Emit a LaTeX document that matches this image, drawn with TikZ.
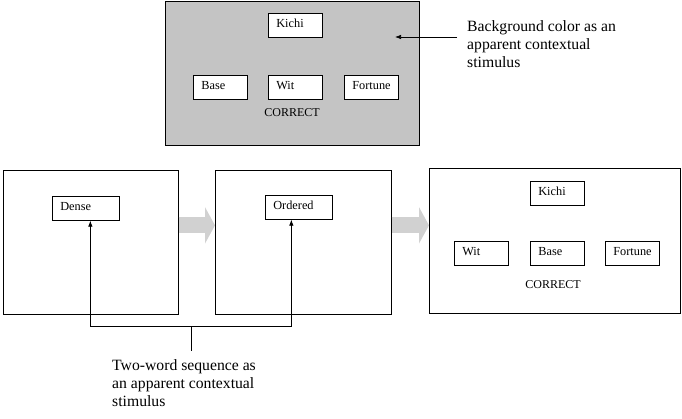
\documentclass[tikz,border=0pt]{standalone}
\usepackage{fontspec}
\setmainfont{Liberation Serif}
\usetikzlibrary{positioning,arrows.meta}

\begin{document}
\begin{tikzpicture}[x=1pt,y=-1pt,
  panel/.style={draw,line width=0.7pt,anchor=north west,inner sep=0pt},
  wordbox/.style={draw,fill=white,line width=0.7pt,anchor=north west,minimum height=24pt,
    inner xsep=8pt,text width=38pt,align=left,text height=8.5pt,text depth=5pt,
    font=\fontsize{12.3}{14}\selectfont},
  widebox/.style={wordbox,text width=51pt},
  caption/.style={font=\fontsize{12}{14}\selectfont},
  note/.style={anchor=north west,inner sep=0pt,align=left,font=\fontsize{15.7}{18.3}\selectfont},
  flow/.style={line width=16pt,black!18,-{Triangle[length=10pt,width=36pt]}},
  ptr/.style={line width=0.7pt,-{Latex[length=6pt,width=4.5pt]}}]
\useasboundingbox (0,0) rectangle (682,419);

% Top panel: background color as stimulus
\node[panel,fill=black!23,minimum width=254pt,minimum height=144pt] (stimbox) at (165,1) {};
\foreach \nm/\x/\y/\txt in {kichiA/268/13/Kichi, baseA/193/75/Base, witA/268/75/Wit, fortuneA/344/75/Fortune}
    \node[wordbox] (\nm) at (\x,\y) {\txt};
\node[caption] (correctA) at (292,113) {CORRECT};

\node[note] (bgnote) at (467,20) {Background color as an\\apparent contextual\\stimulus};
\coordinate (bgfrom) at (457,37);
\coordinate (bgtip) at (395,37);
\draw[ptr] (bgfrom) -- (bgtip);

% Bottom row of panels
\node[panel,minimum width=175pt,minimum height=144pt] (first) at (3,170) {};
\node[panel,minimum width=176pt,minimum height=144pt] (second) at (215,170) {};
\node[panel,minimum width=251pt,minimum height=145pt] (third) at (429,168) {};

\node[widebox] (dense) at (52,196) {Dense};
\node[widebox] (ordered) at (265,195) {Ordered};

\foreach \nm/\x/\y/\txt in {kichiB/530/181/Kichi, witB/454/241/Wit, baseB/530/241/Base, fortuneB/605/241/Fortune}
    \node[wordbox] (\nm) at (\x,\y) {\txt};
\node[caption] (correctB) at (553,285) {CORRECT};

% Gray flow arrows
\draw[flow] ([yshift=17pt]first.east) -- ([yshift=17pt]first.east -| second.west);
\draw[flow] ([yshift=17pt]second.east) -- ([yshift=17pt]second.east -| third.west);

% Two-word sequence bracket
\coordinate (split) at (191,326);
\coordinate (stemend) at (191,351);
\draw[line width=0.7pt] (split) -- (stemend);
\draw[ptr] (split) -| ([xshift=4.5pt]dense.south);
\draw[ptr] (split) -| ([xshift=-7.5pt]ordered.south);

\node[note] (seqnote) at (112,359) {Two-word sequence as\\an apparent contextual\\stimulus};

\end{tikzpicture}
\end{document}
